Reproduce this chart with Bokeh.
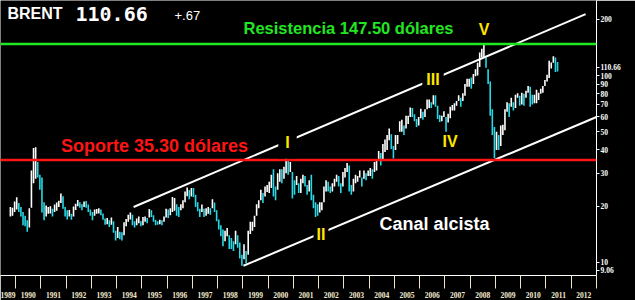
from bokeh.plotting import figure
from bokeh.models import (ColumnDataSource, FixedTicker, CustomJSTickFormatter,
                          Span, Label, Range1d)
from bokeh.embed import file_html
from bokeh.resources import INLINE

# ---------------- data (monthly Brent ranges, USD) ----------------
first_year, first_month = 1989, 10
high = [
    19.8, 19.6, 21.2,                                                        # 1989 Oct-Dec
    22.3, 20.8, 19.8, 18.6, 17.8, 16.8, 19.5, 31.0, 41.0, 41.3, 34.5, 29.5,  # 1990
    28.5, 21.0, 20.2, 19.8, 20.0, 19.4, 20.4, 20.9, 21.4, 23.4, 22.6, 19.8,  # 1991
    19.0, 19.1, 18.2, 19.9, 20.6, 21.6, 21.0, 20.5, 21.2, 21.3, 20.4, 19.2,  # 1992
    18.6, 19.2, 19.3, 19.5, 19.2, 18.3, 17.2, 17.3, 16.8, 17.4, 16.6, 14.8,  # 1993
    15.5, 14.6, 14.5, 16.4, 17.1, 18.0, 18.5, 18.0, 16.6, 17.2, 17.6, 16.6,  # 1994
    17.5, 17.6, 17.3, 19.3, 19.0, 17.9, 16.9, 16.6, 16.9, 16.8, 17.6, 19.4,  # 1995
    19.2, 19.5, 22.4, 22.1, 20.5, 19.8, 20.5, 21.5, 24.0, 25.2, 24.4, 25.0,  # 1996
    25.0, 23.0, 21.0, 19.4, 20.4, 19.4, 19.5, 19.8, 19.5, 21.8, 20.9, 19.0,  # 1997
    17.0, 15.8, 15.0, 14.8, 15.3, 14.0, 13.5, 13.0, 14.8, 14.0, 12.8, 11.0,  # 1998
    12.5, 11.5, 14.8, 16.5, 16.5, 17.8, 20.5, 21.5, 24.5, 23.5, 25.5, 26.0,  # 1999
    27.0, 29.5, 31.5, 25.5, 30.0, 31.5, 31.5, 32.5, 36.0, 35.0, 34.5, 30.5,  # 2000
    27.5, 29.0, 26.5, 28.0, 29.5, 29.0, 26.0, 27.5, 29.5, 23.0, 21.0, 20.5,  # 2001
    21.0, 21.0, 25.5, 27.5, 27.0, 25.5, 26.5, 28.0, 29.5, 29.0, 26.5, 30.5,  # 2002
    32.0, 34.0, 33.0, 26.0, 28.0, 29.5, 29.0, 31.0, 28.5, 31.0, 30.0, 31.0,  # 2003
    32.0, 31.5, 34.5, 35.0, 39.5, 38.5, 43.0, 45.5, 48.0, 52.0, 48.5, 42.0,  # 2004
    48.0, 48.0, 57.0, 58.0, 54.0, 61.0, 61.0, 67.5, 67.0, 62.0, 58.5, 60.0,  # 2005
    66.5, 64.0, 66.0, 74.5, 74.5, 72.0, 78.5, 78.5, 69.0, 61.5, 61.0, 64.5,  # 2006
    60.0, 62.5, 68.0, 69.5, 71.0, 73.0, 78.5, 76.0, 80.5, 90.0, 96.0, 96.0,  # 2007
    97.5, 102.0, 108.0, 117.0, 133.0, 139.0, 147.5, 125.0, 108.0, 93.0, 66.0, 53.0,  # 2008
    50.0, 48.0, 54.0, 54.5, 66.0, 72.0, 71.0, 76.0, 72.0, 79.0, 80.5, 78.0,  # 2009
    81.0, 80.0, 83.0, 88.0, 87.0, 79.0, 79.0, 84.0, 81.0, 85.0, 88.0, 94.5,  # 2010
    101.0, 120.0, 117.5, 127.0, 125.0, 118.0,                                # 2011 Jan-Jun
]
low = [
    17.6, 17.8, 18.6,
    19.2, 18.6, 17.6, 15.8, 15.6, 14.6, 15.4, 19.6, 26.5, 28.0, 28.5, 24.5,
    18.5, 16.8, 17.6, 18.2, 18.3, 17.6, 18.6, 18.9, 19.8, 20.8, 19.4, 17.6,
    17.0, 17.6, 16.9, 17.6, 19.1, 20.0, 19.6, 19.0, 19.8, 19.6, 18.6, 17.8,
    16.8, 17.8, 18.2, 18.3, 17.9, 16.9, 15.9, 16.0, 15.5, 15.9, 14.4, 13.1,
    13.5, 13.3, 13.1, 14.0, 15.6, 16.5, 17.0, 15.8, 15.4, 15.8, 16.2, 15.6,
    15.8, 16.5, 16.2, 17.4, 17.5, 16.5, 15.8, 15.9, 16.0, 15.8, 16.5, 17.4,
    17.3, 17.9, 18.6, 18.9, 17.8, 17.5, 19.0, 19.5, 21.0, 22.6, 21.8, 22.5,
    22.4, 19.8, 18.8, 17.5, 18.6, 17.5, 17.8, 18.2, 18.0, 19.5, 18.6, 16.6,
    15.0, 13.8, 12.2, 13.0, 13.8, 11.8, 11.8, 11.5, 12.5, 12.0, 10.5, 9.6,
    10.4, 9.9, 11.0, 14.2, 14.8, 15.5, 17.8, 19.5, 21.5, 20.8, 22.5, 23.8,
    23.5, 25.0, 22.5, 21.5, 24.5, 27.0, 26.5, 28.0, 30.0, 29.5, 30.5, 22.0,
    23.0, 26.0, 23.5, 23.5, 26.5, 25.5, 23.0, 24.0, 21.5, 19.5, 17.5, 17.8,
    18.5, 19.0, 21.0, 24.0, 24.0, 23.5, 24.0, 25.5, 27.0, 25.5, 23.5, 25.5,
    28.5, 30.5, 24.0, 23.0, 24.0, 26.5, 27.0, 28.5, 25.5, 28.0, 27.5, 29.0,
    29.0, 28.0, 30.5, 31.0, 35.0, 33.0, 35.5, 39.0, 40.0, 45.0, 40.5, 36.0,
    40.0, 43.0, 50.0, 50.0, 48.0, 52.0, 55.0, 60.0, 60.0, 57.0, 53.0, 54.0,
    59.0, 58.0, 60.0, 66.0, 67.0, 67.0, 70.0, 68.0, 58.5, 56.5, 57.0, 60.0,
    50.0, 56.0, 59.0, 65.0, 65.0, 69.0, 73.0, 68.0, 73.0, 78.0, 87.0, 87.0,
    85.0, 90.0, 99.0, 100.0, 111.0, 125.0, 124.0, 110.0, 90.0, 61.0, 48.0, 36.2,
    40.0, 40.0, 42.0, 48.0, 51.0, 64.0, 60.0, 68.0, 65.0, 67.0, 76.0, 69.0,
    70.0, 69.0, 76.0, 81.0, 68.0, 70.0, 71.0, 71.0, 74.0, 80.0, 81.0, 88.0,
    93.0, 97.0, 109.0, 117.0, 104.5, 105.0,
]
last_price = 110.66
change = "+.67"
resistance = 147.50
support = 35.30
# trend channel anchors (decimal year, price)
upper_channel_x = [1994.67, 2012.57]
upper_channel_y = [19.8, 213.0]
lower_channel_x = [1999.02, 2013.0]
lower_channel_y = [9.6, 60.0]
year_labels = list(range(1989, 2013))
price_ticks = [9.06, 10, 20, 30, 40, 50, 60, 70, 80, 90, 100, 200]

# ---------------- geometry ----------------
X0, X1 = 1989.40, 2013.0
PX_YEAR = 596 / (X1 - X0)
PX_DECADE = 191.0
Y_TOP = 252.0
Y_BOT = Y_TOP * 10 ** (-281 / PX_DECADE)


def at(px, py):
    return X0 + px / PX_YEAR, Y_TOP * 10 ** (-py / PX_DECADE)


xs, cols = [], []
prev_mid = None
for i, (h, l) in enumerate(zip(high, low)):
    m = first_month - 1 + i
    xs.append(first_year + m // 12 + (m % 12 + 0.5) / 12)
    mid = (h + l) / 2
    cols.append("#27d9e6" if (prev_mid is not None and mid < prev_mid) else "white")
    prev_mid = mid

src = ColumnDataSource(dict(x=xs, hi=high, lo=low, c=cols))

p = figure(width=635, height=300, output_backend="svg", toolbar_location=None,
           x_range=Range1d(X0, X1), y_range=Range1d(Y_BOT, Y_TOP),
           y_axis_type="log", y_axis_location="right",
           background_fill_color="black", border_fill_color="black",
           min_border_left=0, min_border_top=0, min_border_right=39,
           min_border_bottom=19)
p.outline_line_color = None
p.grid.visible = False

p.segment(x0="x", y0="lo", x1="x", y1="hi", source=src, line_color="c", line_width=1.6)

p.add_layout(Span(location=resistance, dimension="width", line_color="#22e622", line_width=2.5))
p.add_layout(Span(location=support, dimension="width", line_color="#ff1414", line_width=2.5))

p.line(upper_channel_x, upper_channel_y, line_color="white", line_width=2)
p.line(lower_channel_x, lower_channel_y, line_color="white", line_width=2)

# x axis
xa = p.xaxis[0]
xa.ticker = FixedTicker(ticks=[y + 0.5 for y in year_labels],
                        minor_ticks=[float(y) for y in range(1990, 2014)])
xa.formatter = CustomJSTickFormatter(code="return String(Math.floor(tick));")
xa.major_tick_out = 0
xa.major_tick_in = 0
xa.minor_tick_out = 13
xa.minor_tick_in = 0
xa.minor_tick_line_color = "#efe4c4"
xa.axis_line_color = "white"
xa.major_label_text_font = "Liberation Sans Narrow"
xa.major_label_text_font_style = "bold"
xa.major_label_text_font_size = "7.5px"
xa.major_label_text_color = "#f4ecd0"
xa.major_label_standoff = 3

# y axis (price ticks plus the last-price marker)
ya = p.yaxis[0]
ya.ticker = FixedTicker(ticks=price_ticks + [last_price])
ya.formatter = CustomJSTickFormatter(code="return String(tick);")
ya.major_tick_out = 3
ya.major_tick_in = 0
ya.minor_tick_out = 0
ya.minor_tick_in = 0
ya.axis_line_color = "white"
ya.major_tick_line_color = "white"
ya.major_label_text_font = "Liberation Sans Narrow"
ya.major_label_text_font_style = "bold"
ya.major_label_text_font_size = "7.5px"
ya.major_label_text_color = "white"
ya.major_label_standoff = 1


def lab(text, px, py, size, color, font="Liberation Sans", style="bold",
        align="left", bg=None, pad=0):
    x, y = at(px, py)
    kw = {}
    if bg is not None:
        kw = dict(background_fill_color=bg, padding=pad)
    p.add_layout(Label(x=x, y=y, text=text, text_font=font, text_font_style=style,
                       text_font_size=f"{size}px", text_color=color, text_align=align,
                       text_baseline="middle", **kw))


lab("BRENT", 7, 13, 16, "white")
lab(f"{last_price:.2f}", 75, 13.5, 20, "white", font="DejaVu Sans Mono")
lab(change, 174, 15, 13, "white", style="normal")
lab(f"Resistencia {resistance:.2f} dólares", 348, 28.5, 16.5, "#22e622", align="center")
lab(f"Soporte {support:.2f} dólares", 154, 148.5, 18, "#ff1414", align="center")
lab("Canal alcista", 434, 228, 18, "white", align="center")
lab("I", 287, 145.5, 16, "#ffe600", align="center", bg="black", pad=7)
lab("II", 320.5, 239, 16, "#ffe600", align="center", bg="black", pad=3)
lab("III", 432.5, 81, 16, "#ffe600", align="center", bg="black", pad=4)
lab("IV", 449.5, 144.5, 16, "#ffe600", align="center")
lab("V", 483.5, 29.5, 16, "#ffe600", align="center")

open("out.html", "w").write(file_html(p, INLINE))
